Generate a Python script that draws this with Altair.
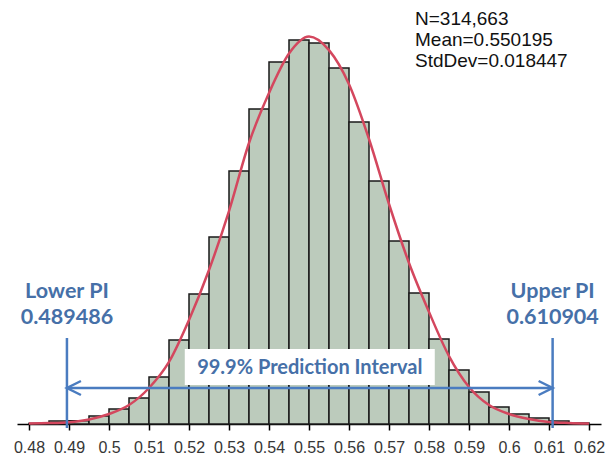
import altair as alt
import pandas as pd

# ---- data ----
bin_start = [0.480, 0.485, 0.490, 0.495, 0.500, 0.505, 0.510, 0.515, 0.520, 0.525,
             0.530, 0.535, 0.540, 0.545, 0.550, 0.555, 0.560, 0.565, 0.570, 0.575,
             0.580, 0.585, 0.590, 0.595, 0.600, 0.605, 0.610, 0.615]
bin_count = [60, 260, 280, 700, 1320, 2290, 4140, 7390, 11440, 16460,
             22260, 27720, 31860, 33790, 33530, 31330, 26580, 21380, 16100, 11530,
             7480, 4750, 2820, 1500, 880, 530, 260, 90]
bin_width = 0.005

curve_x = [0.480, 0.485, 0.490, 0.495, 0.500, 0.505, 0.510, 0.515, 0.520, 0.525,
           0.530, 0.535, 0.540, 0.545, 0.550, 0.555, 0.560, 0.565, 0.570, 0.575,
           0.580, 0.585, 0.590, 0.595, 0.600, 0.605, 0.610, 0.615, 0.620]
curve_y = [50, 80, 160, 400, 880, 1670, 3170, 5460, 9150, 13550,
           18740, 24730, 29130, 32600, 34100, 32900, 29900, 25080, 19360, 14170,
           9860, 5980, 3260, 1670, 880, 440, 180, 90, 40]

tick_values = [0.48, 0.49, 0.50, 0.51, 0.52, 0.53, 0.54, 0.55, 0.56, 0.57,
               0.58, 0.59, 0.60, 0.61, 0.62]

stats_lines = ["N=314,663", "Mean=0.550195", "StdDev=0.018447"]
lower_pi = 0.489486
upper_pi = 0.610904
pi_titles = ["Lower PI", "Upper PI"]
interval_label = "99.9% Prediction Interval"

# ---- styling ----
BLUE_LINE = "#4a7cc0"
BLUE_TEXT = "#4670a8"
RED = "#d4475e"
BAR_FILL = "#bccbbc"

bars_df = pd.DataFrame({"start": bin_start, "count": bin_count})
bars_df["end"] = bars_df["start"] + bin_width
curve_df = pd.DataFrame({"x": curve_x, "y": curve_y})
pi_df = pd.DataFrame({
    "x": [lower_pi, upper_pi],
    "title": pi_titles,
    "value": [f"{lower_pi:.6f}", f"{upper_pi:.6f}"],
})
mid_df = pd.DataFrame({"x": [(lower_pi + upper_pi) / 2], "label": [interval_label]})

xscale = alt.Scale(domain=[0.477, 0.623], nice=False, zero=False)
yscale = alt.Scale(domain=[0, 37312], nice=False)

xaxis = alt.Axis(values=tick_values, format=".2~f", title=None, grid=False,
                 domainColor="black", domainWidth=1.5, tickColor="black",
                 tickWidth=1.5, tickSize=6, labelFont="Liberation Sans",
                 labelFontSize=16, labelColor="#363636", labelPadding=9,
                 labelFlush=False, labelOverlap=False)

bars = alt.Chart(bars_df).mark_rect(fill=BAR_FILL, stroke="#1a1a1a", strokeWidth=1.5).encode(
    x=alt.X("start:Q", scale=xscale, axis=xaxis),
    x2="end:Q",
    y=alt.Y("count:Q", scale=yscale, axis=None),
    y2=alt.datum(0),
)

curve = alt.Chart(curve_df).mark_line(color=RED, strokeWidth=2.5, interpolate="monotone").encode(
    x=alt.X("x:Q", scale=xscale),
    y=alt.Y("y:Q", scale=yscale),
)

vlines = alt.Chart(pi_df).mark_rule(color=BLUE_LINE, strokeWidth=2.5).encode(
    x=alt.X("x:Q", scale=xscale),
    y=alt.value(338),
    y2=alt.value(428),
)

hline = alt.Chart(mid_df).mark_rule(color=BLUE_LINE, strokeWidth=2.5).encode(
    x=alt.datum(lower_pi, scale=xscale),
    x2=alt.datum(upper_pi),
    y=alt.value(388),
)

left_head = alt.Chart(mid_df).mark_point(
    shape="M1,-0.5L0,0L1,0.5", filled=False, size=784, strokeWidth=2.5,
    color=BLUE_LINE, opacity=1).encode(
    x=alt.datum(lower_pi, scale=xscale), y=alt.value(388))

right_head = alt.Chart(mid_df).mark_point(
    shape="M-1,-0.5L0,0L-1,0.5", filled=False, size=784, strokeWidth=2.5,
    color=BLUE_LINE, opacity=1).encode(
    x=alt.datum(upper_pi, scale=xscale), y=alt.value(388))

box = alt.Chart(mid_df).mark_point(
    shape="M-1,-0.144L1,-0.144L1,0.144L-1,0.144Z", filled=True, size=62500,
    color="white", opacity=1, strokeWidth=0).encode(
    x=alt.X("x:Q", scale=xscale), y=alt.value(367))

box_text = alt.Chart(mid_df).mark_text(
    font="Lato", fontWeight="bold", fontSize=20, color=BLUE_TEXT, baseline="middle").encode(
    x=alt.X("x:Q", scale=xscale), y=alt.value(368), text="label:N")

pi_title_text = alt.Chart(pi_df).mark_text(
    font="Lato", fontWeight="bold", fontSize=21.5, color=BLUE_TEXT, baseline="middle").encode(
    x=alt.X("x:Q", scale=xscale), y=alt.value(292), text="title:N")

pi_value_text = alt.Chart(pi_df).mark_text(
    font="Lato", fontWeight="bold", fontSize=21.5, color=BLUE_TEXT, baseline="middle").encode(
    x=alt.X("x:Q", scale=xscale), y=alt.value(318), text="value:N")

stats_layers = [
    alt.Chart(mid_df).mark_text(
        font="Liberation Sans", fontSize=19, color="#111111", align="left",
        baseline="top").encode(
        x=alt.value(398), y=alt.value(10 + 21 * i), text=alt.value(line))
    for i, line in enumerate(stats_lines)
]

chart = alt.layer(
    bars, curve, vlines, hline, left_head, right_head, box, box_text,
    pi_title_text, pi_value_text, *stats_layers
).properties(
    width=584, height=424,
    autosize=alt.AutoSizeParams(type="none"),
    padding={"left": 17, "top": 0, "right": 7, "bottom": 31},
).configure_view(stroke=None)

chart.save("out.html", embed_options={"renderer": "svg", "actions": False})
